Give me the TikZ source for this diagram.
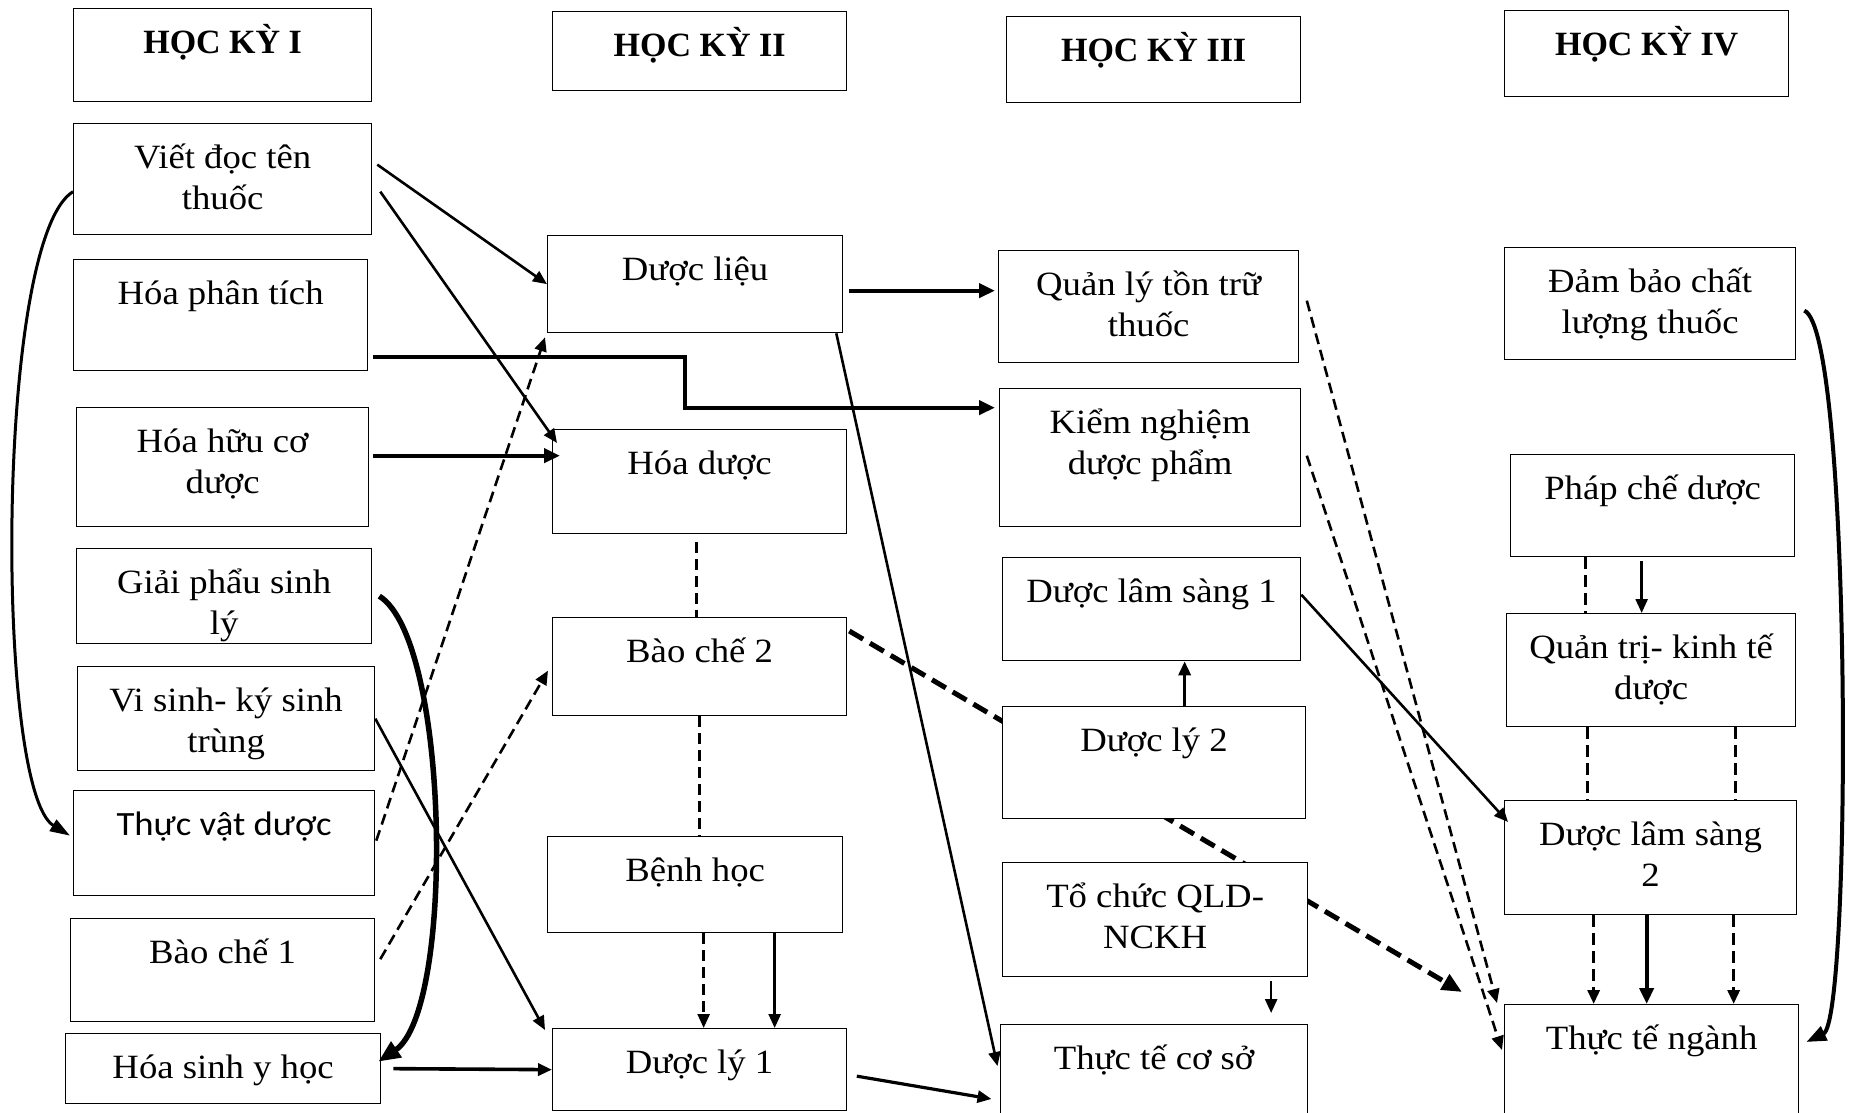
\documentclass[tikz,border=0pt]{standalone}
\usepackage{fontspec}
\setmainfont{Liberation Serif}[FakeStretch=1.08]
\newfontfamily\headfont{Liberation Serif}
\newfontfamily\calibrifont{Carlito}[FakeStretch=1.08]
\usetikzlibrary{arrows.meta,backgrounds}
\newcommand{\boxtext}[3]{\parbox[t][#2][t]{#1}{\centering\rule{0pt}{44.5pt}#3}}

\begin{document}
\begin{tikzpicture}[x=1pt,y=-1pt,>={Triangle[length=14pt,width=12pt]}]
\tikzset{box/.style={draw,line width=1.3pt,fill=white,inner sep=0pt,anchor=north west,
                     font=\fontsize{34}{41.6}\selectfont}}
\tikzset{head/.style={box,font={\headfont\bfseries\fontsize{34}{40}\selectfont}}}
\tikzset{link/.style={line width=2.6pt}}
\tikzset{heavy/.style={line width=4pt,-{Triangle[length=16pt,width=14pt]}}}
\tikzset{dashlink/.style={line width=2.6pt,dash pattern=on 11pt off 6pt}}
\tikzset{coldash/.style={line width=3.2pt,dash pattern=on 12pt off 6pt}}
\tikzset{bolddash/.style={line width=5pt,dash pattern=on 16pt off 8pt}}

\useasboundingbox (0,0) rectangle (1856,1113);

        % hoc ky headers
        \node[head] (hk1) at (73,8)    {\boxtext{298pt}{93pt}{HỌC KỲ I}};
        \node[head] (hk2) at (552,11)  {\boxtext{294pt}{79pt}{HỌC KỲ II}};
        \node[head] (hk3) at (1006,16) {\boxtext{294pt}{86pt}{HỌC KỲ III}};
        \node[head] (hk4) at (1504,10) {\boxtext{284pt}{86pt}{HỌC KỲ IV}};

        % hoc ky I
        \node[box] (vdt)  at (73,123)  {\boxtext{298pt}{111pt}{Viết đọc tên\\thuốc}};
        \node[box] (hpt)  at (73,259)  {\boxtext{294pt}{111pt}{Hóa phân tích}};
        \node[box] (hhc)  at (76,407)  {\boxtext{292pt}{119pt}{Hóa hữu cơ\\dược}};
        \node[box] (gpsl) at (76,548)  {\boxtext{295pt}{95pt}{Giải phẩu sinh\\lý}};
        \node[box] (vsk)  at (77,666)  {\boxtext{297pt}{104pt}{Vi sinh- ký sinh\\trùng}};
        \node[box] (tvd)  at (73,790)  {\boxtext{301pt}{105pt}{\calibrifont Thực vật dược}};
        \node[box] (bc1)  at (70,918)  {\boxtext{304pt}{103pt}{Bào chế 1}};
        \node[box] (hsyh) at (65,1033) {\boxtext{315pt}{70pt}{Hóa sinh y học}};

        % hoc ky II
        \node[box] (dl)   at (547,235)  {\boxtext{295pt}{97pt}{Dược liệu}};
        \node[box] (hd)   at (552,429)  {\boxtext{294pt}{104pt}{Hóa dược}};
        \node[box] (bc2)  at (552,617)  {\boxtext{294pt}{98pt}{Bào chế 2}};
        \node[box] (bh)   at (547,836)  {\boxtext{295pt}{96pt}{Bệnh học}};
        \node[box] (dly1) at (552,1028) {\boxtext{294pt}{82pt}{Dược lý 1}};

        % hoc ky III
        \node[box] (qlt)  at (998,250)  {\boxtext{300pt}{112pt}{Quản lý tồn trữ\\thuốc}};
        \node[box] (kn)   at (999,388)  {\boxtext{301pt}{138pt}{Kiểm nghiệm\\dược phẩm}};
        \node[box] (dls1) at (1002,557) {\boxtext{298pt}{103pt}{Dược lâm sàng 1}};
        \node[box] (dly2) at (1002,706) {\boxtext{303pt}{112pt}{Dược lý 2}};
        \node[box] (tc)   at (1002,862) {\boxtext{305pt}{114pt}{Tổ chức QLD-\\NCKH}};
        \node[box] (ttcs) at (1000,1024){\boxtext{307pt}{110pt}{Thực tế cơ sở}};

        % hoc ky IV
        \node[box] (dbcl) at (1504,247) {\boxtext{291pt}{112pt}{Đảm bảo chất\\lượng thuốc}};
        \node[box] (pcd)  at (1510,454) {\boxtext{284pt}{102pt}{Pháp chế dược}};
        \node[box] (qtkt) at (1506,613) {\boxtext{289pt}{113pt}{Quản trị- kinh tế\\dược}};
        \node[box] (dls2) at (1504,800) {\boxtext{292pt}{114pt}{Dược lâm sàng\\2}};
        \node[box] (ttn)  at (1504,1004){\boxtext{294pt}{120pt}{Thực tế ngành}};

        % long dashed link runs behind Duoc ly 2 and To chuc
        \begin{pgfonlayer}{background}
        \draw[bolddash,-{Triangle[length=20pt,width=17pt]}]
          ([xshift=2pt,yshift=-14pt]bc2.north east) -- ([xshift=-42pt,yshift=12pt]ttn.north west);
        \end{pgfonlayer}

        \path[->]
        ([xshift=5pt,yshift=14.5pt]vdt.east)   edge[link]            (dl.west)
        ([xshift=8pt,yshift=-12.5pt]vdt.east)  edge[link]            ([xshift=5pt,yshift=-14pt]hd.north west)
        ([xshift=4pt,yshift=11.5pt]hhc.east)   edge[heavy]           ([xshift=8pt,yshift=26pt]hd.west)
        (vsk.east)                             edge[link]            ([xshift=-7pt,yshift=-2pt]dly1.north west)
        ([xshift=1pt,yshift=2.5pt]tvd.east)    edge[dashlink]        ([xshift=-2pt,yshift=-4pt]dl.south west)
        ([xshift=5pt,yshift=11pt]bc1.east)     edge[dashlink]        ([xshift=-4pt,yshift=-4pt]bc2.west)
        ([xshift=12pt]hsyh.east)               edge[line width=3.6pt] (dly1.west)
        ([xshift=6pt,yshift=-6.5pt]dl.east)    edge[heavy]           ([xshift=-3pt,yshift=16pt]qlt.west)
        ([xshift=-7pt]dl.south east)           edge[link]            ([xshift=-2.5pt,yshift=-42pt]ttcs.north west)
        ([xshift=8.5pt]bh.south)               edge[dashlink]        ([xshift=4pt]dly1.north)
        ([xshift=79.5pt]bh.south)              edge[link]            ([xshift=75pt]dly1.north)
        ([xshift=9.5pt,yshift=-6.5pt]dly1.east) edge[line width=3.2pt] ([xshift=-8.5pt,yshift=-75pt]ttcs.north west)
        ([xshift=30.5pt]dly2.north)            edge[line width=3.3pt] ([xshift=33pt]dls1.south)
        ([xshift=116pt,yshift=-4pt]tc.south)   edge[link]            ([xshift=117pt,yshift=11pt]ttcs.north)
        ([yshift=14.5pt]dls1.east)             edge[link]            ([xshift=4pt,yshift=-22pt]dls2.north west)
        ([xshift=7.5pt,yshift=6pt]qlt.east)    edge[dashlink]        ([xshift=-7pt,yshift=1pt]ttn.north west)
        ([xshift=5.5pt,yshift=2pt]kn.east)     edge[dashlink]        ([xshift=-2pt,yshift=-46pt]ttn.north west)
        ([xshift=-11pt,yshift=-4pt]pcd.south)  edge[link]            ([xshift=-9.5pt]qtkt.north)
        ([xshift=-57pt]dls2.south)             edge[coldash]         ([xshift=-58pt]ttn.north)
        ([xshift=-4pt]dls2.south)              edge[heavy]           ([xshift=-5pt]ttn.north)
        ([xshift=83pt]dls2.south)              edge[coldash]         ([xshift=82pt]ttn.north)
        ; %end path

        % plain dashed ties, no tips
        \draw[dashlink,line width=3pt] ([xshift=-3pt,yshift=-8pt]hd.south) -- ([xshift=-3pt]bc2.north);
        \draw[dashlink,line width=3pt] (bc2.south) -- ([xshift=4.5pt]bh.north);
        \draw[coldash] ([xshift=-67pt]pcd.south) -- ([xshift=-65.5pt]qtkt.north);
        \draw[coldash] ([xshift=-63.5pt]qtkt.south) -- ([xshift=-63pt]dls2.north);
        \draw[coldash] ([xshift=84.5pt]qtkt.south) -- ([xshift=85pt]dls2.north);

        % elbow from Hoa phan tich
        \draw[heavy] ([xshift=5pt,yshift=14pt]hpt.south east) -- ++(312,0) |- ([xshift=-4pt,yshift=50pt]kn.west);

        % curved links
        \draw[line width=3pt,-{Triangle[length=20pt,width=13pt]}]
          ([yshift=-12.5pt]vdt.west) .. controls (-5,240) and (-5,790) .. ([xshift=-3pt,yshift=7.5pt]tvd.west);
        \draw[line width=5.5pt,-{Triangle[length=22pt,width=18pt]}]
          ([xshift=7pt]gpsl.east) .. controls (450,640) and (455,1010) .. ([xshift=-3pt,yshift=7pt]hsyh.east);
        \draw[line width=4pt,-{Triangle[length=20pt,width=15pt]}]
          ([xshift=8pt,yshift=-7pt]dbcl.east) .. controls (1852,330) and (1852,1020) .. ([xshift=7pt,yshift=-38pt]ttn.north east);

\end{tikzpicture}
\end{document}
